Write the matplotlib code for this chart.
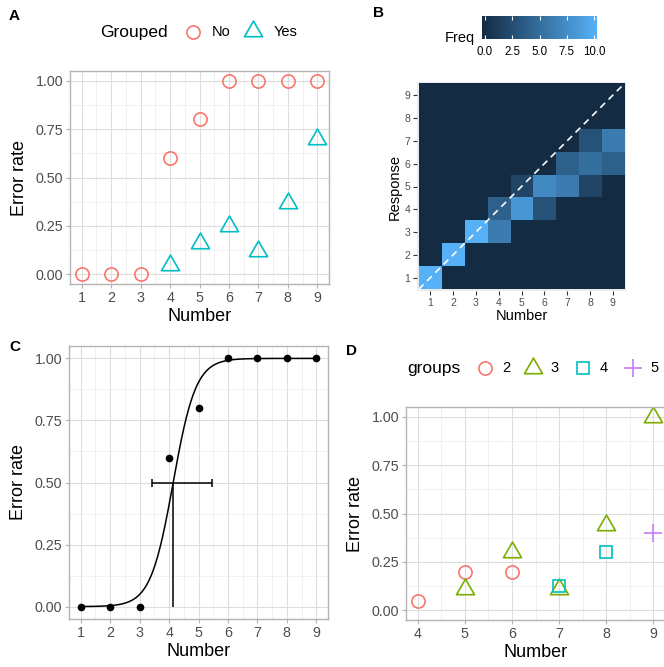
import numpy as np
import matplotlib
matplotlib.use("Agg")
import matplotlib.pyplot as plt
from matplotlib.path import Path
from matplotlib.colors import LinearSegmentedColormap

plt.rcParams["font.family"] = ["Liberation Sans", "DejaVu Sans"]

# panel A: error rate per number, grouped vs not grouped
numbers = [1, 2, 3, 4, 5, 6, 7, 8, 9]
err_no = [0, 0, 0, 0.6, 0.8, 1, 1, 1, 1]
numbers_yes = [4, 5, 6, 7, 8, 9]
err_yes = [0.05, 0.16, 0.25, 0.12, 0.37, 0.70]

# panel B: response counts (number, response, freq)
freq_number = [1, 2, 3, 4, 4, 5, 5, 6, 6, 7, 7, 8, 8, 8, 9, 9]
freq_response = [1, 2, 3, 3, 4, 4, 5, 4, 5, 5, 6, 5, 6, 7, 6, 7]
freq_count = [10, 10, 10, 6, 4, 8, 2, 3, 7, 6, 4, 2, 5, 3, 4, 6]

# panel C: psychometric fit on the ungrouped error rate
fit_mid = 4.14
fit_slope = 2.6
fit_ci = (3.42, 5.47)

# panel D: error rate by group size
groups = ["2", "3", "4", "5"]
group_x = [[4, 5, 6], [5, 6, 7, 8, 9], [7, 8], [9]]
group_y = [[0.05, 0.2, 0.2], [0.11, 0.3, 0.11, 0.44, 1.0], [0.125, 0.3], [0.4]]

W, H = 664, 667
RED, GREEN, CYAN, PURPLE = "#F8766D", "#7CAE00", "#00BFC4", "#C77CFF"
GRID, GRID_MINOR, FRAME, TXT = "#DEDEDE", "#EBEBEB", "#B3B3B3", "#4D4D4D"

# equilateral triangle centred on its centroid, like R's pch 2
TRI = Path([(0, 0.577), (-0.5, -0.289), (0.5, -0.289), (0, 0.577)],
           [Path.MOVETO, Path.LINETO, Path.LINETO, Path.CLOSEPOLY])


def box(l, t, r, b):
    return [l / W, 1 - b / H, (r - l) / W, (b - t) / H]


def light_theme(ax, xticks, xlim):
    ax.set_xlim(*xlim)
    ax.set_ylim(-0.05, 1.05)
    ax.set_xticks(xticks)
    ax.set_xticks([x + 0.5 for x in xticks[:-1]], minor=True)
    ax.set_yticks([0, 0.25, 0.5, 0.75, 1.0])
    ax.set_yticks([0.125, 0.375, 0.625, 0.875], minor=True)
    ax.set_yticklabels(["0.00", "0.25", "0.50", "0.75", "1.00"])
    ax.grid(which="major", color=GRID, lw=0.8, zorder=0)
    ax.grid(which="minor", color=GRID_MINOR, lw=0.5, zorder=0)
    ax.set_axisbelow(True)
    for s in ax.spines.values():
        s.set_color(FRAME)
        s.set_linewidth(1.0)
    ax.tick_params(which="major", length=3, color=FRAME, labelcolor=TXT,
                   labelsize=10.3, pad=2)
    ax.tick_params(which="minor", length=0)
    ax.set_xlabel("Number", fontsize=13, labelpad=2)
    ax.set_ylabel("Error rate", fontsize=13, labelpad=5)


fig = plt.figure(figsize=(W / 100, H / 100), dpi=100)

# overlay in pixel units for legends and panel tags
ov = fig.add_axes([0, 0, 1, 1], zorder=5)
ov.set_xlim(0, W)
ov.set_ylim(H, 0)
ov.axis("off")
ov.patch.set_alpha(0)

# ---- A
axA = fig.add_axes(box(70, 71, 329, 284))
light_theme(axA, numbers, (0.6, 9.4))
axA.plot(numbers, err_no, ls="none", marker="o", ms=9.5, mfc="none",
         mec=RED, mew=1.2, clip_on=False)
axA.plot(numbers_yes, err_yes, ls="none", marker=TRI, ms=15, mfc="none",
         mec=CYAN, mew=1.2, clip_on=False)

ov.text(100, 32, "Grouped", fontsize=12.5, va="center")
ov.plot(193, 32, marker="o", ms=9.5, mfc="none", mec=RED, mew=1.2)
ov.text(212, 32, "No", fontsize=10.5, va="center")
ov.plot(253, 31, marker=TRI, ms=15, mfc="none", mec=CYAN, mew=1.2)
ov.text(274, 32, "Yes", fontsize=10.5, va="center")

# ---- B
cmap = LinearSegmentedColormap.from_list("ggblue", ["#132B43", "#56B1F7"])
grid = np.zeros((9, 9))
for n, r, c in zip(freq_number, freq_response, freq_count):
    grid[r - 1, n - 1] = c

axB = fig.add_axes(box(417, 82, 626, 291))
axB.set_facecolor("#EBEBEB")
axB.imshow(grid, cmap=cmap, vmin=0, vmax=10, origin="lower",
           extent=(0.5, 9.5, 0.5, 9.5), aspect="auto", interpolation="nearest")
axB.plot([0.5, 9.5], [0.5, 9.5], color="white", lw=1.2, ls=(0, (4, 3)))
axB.set_xlim(0.42, 9.58)
axB.set_ylim(0.42, 9.58)
axB.set_xticks(numbers)
axB.set_yticks(numbers)
for s in axB.spines.values():
    s.set_visible(False)
axB.tick_params(length=3, color="#333333", labelcolor=TXT, labelsize=7.5, pad=2)
axB.set_xlabel("Number", fontsize=10.5, labelpad=1)
axB.set_ylabel("Response", fontsize=10.5, labelpad=2)

cb = fig.add_axes(box(482, 16, 597, 39))
cb.imshow(np.linspace(0, 10, 256)[None, :], cmap=cmap, vmin=0, vmax=10,
          extent=(-0.28, 10.28, 0, 1), aspect="auto")
cb.set_xlim(-0.28, 10.28)
cb.set_yticks([])
cb.set_xticks([0, 2.5, 5, 7.5, 10])
cb.set_xticklabels(["0.0", "2.5", "5.0", "7.5", "10.0"])
cb.tick_params(axis="x", direction="in", length=3, color="white", width=0.8,
               top=True, labelsize=8.3, pad=5)
for s in cb.spines.values():
    s.set_visible(False)
ov.text(445, 38, "Freq", fontsize=10.5, va="center")

# ---- C
axC = fig.add_axes(box(69, 346, 328, 619))
light_theme(axC, numbers, (0.6, 9.4))
xs = np.linspace(1, 9, 300)
axC.plot(xs, 1 / (1 + np.exp(-fit_slope * (xs - fit_mid))), color="black", lw=1.1)
axC.errorbar(fit_mid, 0.5, xerr=[[fit_mid - fit_ci[0]], [fit_ci[1] - fit_mid]],
             color="black", lw=1.1, capsize=3, capthick=1.1)
axC.vlines(fit_mid, 0, 0.5, color="black", lw=1.1)
axC.plot(numbers, err_no, ls="none", marker="o", ms=4.5, color="black",
         clip_on=False)

# ---- D
axD = fig.add_axes(box(406, 407, 665, 620))
light_theme(axD, [4, 5, 6, 7, 8, 9], (3.75, 9.25))
d_style = [("o", 9.5, RED), (TRI, 15, GREEN), ("s", 8.5, CYAN), ("+", 13, PURPLE)]
for gx, gy, (m, ms, c) in zip(group_x, group_y, d_style):
    axD.plot(gx, gy, ls="none", marker=m, ms=ms, mfc="none", mec=c, mew=1.2)

ov.text(407, 368, "groups", fontsize=12.5, va="center")
key_x = [485, 533, 583, 633]
for g, kx, (m, ms, c) in zip(groups, key_x, d_style):
    ov.plot(kx, 368, marker=m, ms=ms, mfc="none", mec=c, mew=1.2)
    ov.text(kx + 17, 368, g, fontsize=10.5, va="center")

# panel tags
for tag, x, y in [("A", 9, 16), ("B", 373, 13), ("C", 9, 347), ("D", 346, 351)]:
    ov.text(x, y, tag, fontsize=11, fontweight="bold", va="center")

fig.savefig("out.png", dpi=100)
